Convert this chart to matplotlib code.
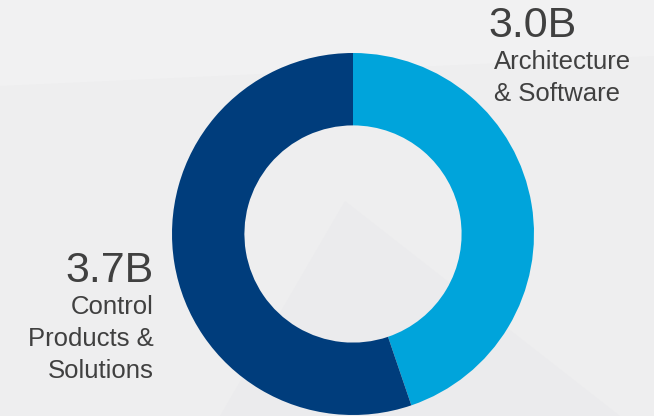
import matplotlib
matplotlib.use("Agg")
from matplotlib import pyplot as plt
from matplotlib.patches import Polygon

# Segment data
segments = ["Architecture & Software", "Control Products & Solutions"]
values = [3.0, 3.7]
value_labels = ["3.0B", "3.7B"]
label_lines = [["Architecture", "& Software"], ["Control", "Products &", "Solutions"]]
colors = ["#00A4DB", "#003D7C"]

plt.rcParams['font.family'] = ['Liberation Sans', 'DejaVu Sans']
text_color = "#404040"

W, H = 654, 416
fig = plt.figure(figsize=(W / 100, H / 100), dpi=100)
fig.patch.set_facecolor("#EEEEEF")
ax = fig.add_axes([0, 0, 1, 1])
ax.set_facecolor("#EEEEEF")

# faint background shapes
ax.add_patch(Polygon([(0, H), (W, H), (W, 360), (0, 330)], closed=True,
                     facecolor="#F1F1F2", edgecolor="none", zorder=0))
ax.add_patch(Polygon([(220, 0), (345, 215), (620, 0)], closed=True,
                     facecolor="#EBEBED", edgecolor="none", zorder=0))

# Donut
radius = 181
ax.pie(values, colors=colors, startangle=90, counterclock=False,
       center=(353, H - 234), radius=radius, frame=True,
       wedgeprops=dict(width=radius * 0.4, edgecolor="none"))

ax.set_xlim(0, W)
ax.set_ylim(0, H)
ax.set_aspect("equal")
ax.axis("off")

# Right label (left aligned)
ax.text(488, H - 37, value_labels[0], fontsize=31, color=text_color,
        ha="left", va="baseline")
for i, line in enumerate(label_lines[0]):
    ax.text(494, H - 69 - 32 * i, line, fontsize=18.5, color=text_color,
            ha="left", va="baseline")

# Left label (right aligned)
ax.text(154, H - 282, value_labels[1], fontsize=31, color=text_color,
        ha="right", va="baseline")
for i, line in enumerate(label_lines[1]):
    ax.text(154, H - 314 - 32 * i, line, fontsize=18.5, color=text_color,
            ha="right", va="baseline")

fig.savefig("out.png", dpi=100, facecolor=fig.get_facecolor())
